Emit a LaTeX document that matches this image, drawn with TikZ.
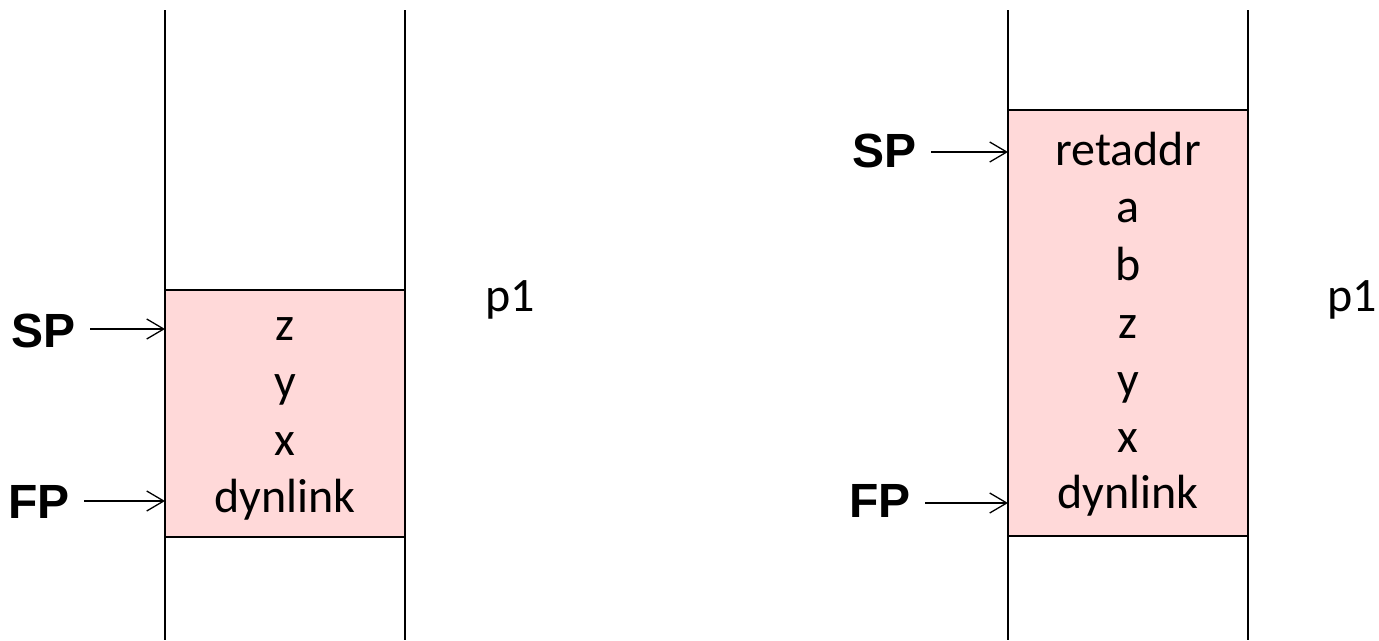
\documentclass[tikz,border=0pt]{standalone}
\usepackage{fontspec}
\setmainfont{Carlito}
\newfontfamily\labelfont{Liberation Sans}
\usetikzlibrary{arrows.meta}
\definecolor{framefill}{RGB}{255,217,217}
\tikzset{
  wall/.style={line width=1.6pt, black},
  frame/.style={draw=black, line width=1.6pt, fill=framefill},
  cell/.style={anchor=base, inner sep=0pt, font=\fontsize{48}{58}\selectfont},
  reg/.style={anchor=base east, inner sep=0pt, font=\labelfont\bfseries\fontsize{48}{58}\selectfont},
  ptr/.style={line width=1.3pt, -{Straight Barb[length=17pt,width=20pt,line width=1.3pt]}, shorten <=14pt},
  tag/.style={anchor=base west, inner sep=0pt, font=\fontsize{48}{58}\selectfont}
}
\begin{document}
\begin{tikzpicture}[x=1pt,y=-1pt]
\useasboundingbox (0,0) rectangle (1379,640);

% ---- left stack ----
\path[frame] (165,290) rectangle (405,537);
\draw[wall] (165,10) -- (165,640);
\draw[wall] (405,10) -- (405,640);
\node[cell] (lz) at (285,340) {z};
\node[cell] (ly) at (285,397) {y};
\node[cell] (lx) at (285,455) {x};
\node[cell] (ld) at (285,512) {dynlink};
\node[reg] (lsp) at (76,347) {SP};
\node[reg] (lfp) at (70,518) {FP};
\coordinate (lspend) at (165,329);
\coordinate (lfpend) at (165,501);
\draw[ptr] (lsp.east |- lspend) -- (lspend);
\draw[ptr] (lfp.east |- lfpend) -- (lfpend);
\node[tag] (lp) at (485,311) {p1};

% ---- right stack ----
\path[frame] (1008,110) rectangle (1248,536);
\draw[wall] (1008,10) -- (1008,640);
\draw[wall] (1248,10) -- (1248,640);
\node[cell] (rr) at (1128,165) {retaddr};
\node[cell] (ra) at (1128,222) {a};
\node[cell] (rb) at (1128,280) {b};
\node[cell] (rz) at (1128,338) {z};
\node[cell] (ry) at (1128,395) {y};
\node[cell] (rx) at (1128,452) {x};
\node[cell] (rd) at (1128,508) {dynlink};
\node[reg] (rsp) at (917,167) {SP};
\node[reg] (rfp) at (911,517) {FP};
\coordinate (rspend) at (1008,152);
\coordinate (rfpend) at (1008,503);
\draw[ptr] (rsp.east |- rspend) -- (rspend);
\draw[ptr] (rfp.east |- rfpend) -- (rfpend);
\node[tag] (rp) at (1327,311) {p1};
\end{tikzpicture}
\end{document}
